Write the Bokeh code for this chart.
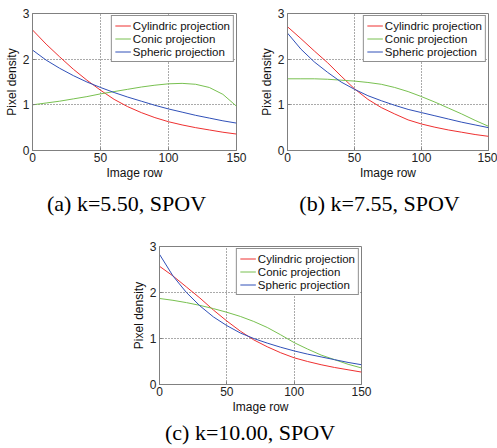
from bokeh.plotting import figure
from bokeh.layouts import column, row
from bokeh.models import Spacer, Range1d, FixedTicker
from bokeh.core.properties import value
from bokeh.embed import file_html
from bokeh.resources import INLINE

# ---- data ----
rows = [0, 10, 20, 30, 40, 50, 60, 70, 80, 90, 100, 110, 120, 130, 140, 150]

cyl_a = [2.64, 2.33, 2.05, 1.78, 1.54, 1.32, 1.12, 0.96, 0.83, 0.72, 0.63, 0.56, 0.50, 0.45, 0.40, 0.36]
con_a = [1.00, 1.04, 1.08, 1.13, 1.18, 1.24, 1.29, 1.34, 1.39, 1.43, 1.46, 1.47, 1.45, 1.38, 1.23, 0.97]
sph_a = [2.20, 1.98, 1.80, 1.64, 1.50, 1.38, 1.27, 1.17, 1.08, 0.99, 0.91, 0.84, 0.77, 0.71, 0.65, 0.60]

cyl_b = [2.71, 2.45, 2.18, 1.92, 1.63, 1.35, 1.12, 0.94, 0.80, 0.67, 0.58, 0.51, 0.45, 0.40, 0.35, 0.31]
con_b = [1.57, 1.57, 1.57, 1.56, 1.54, 1.52, 1.49, 1.45, 1.38, 1.29, 1.18, 1.06, 0.93, 0.80, 0.66, 0.53]
sph_b = [2.57, 2.22, 1.94, 1.71, 1.50, 1.34, 1.20, 1.09, 0.99, 0.90, 0.83, 0.76, 0.69, 0.62, 0.56, 0.50]

cyl_c = [2.57, 2.36, 2.12, 1.88, 1.62, 1.38, 1.16, 0.97, 0.82, 0.69, 0.58, 0.50, 0.43, 0.37, 0.32, 0.27]
con_c = [1.87, 1.83, 1.78, 1.72, 1.65, 1.57, 1.48, 1.37, 1.24, 1.08, 0.91, 0.77, 0.64, 0.54, 0.44, 0.36]
sph_c = [2.83, 2.36, 2.00, 1.71, 1.47, 1.28, 1.12, 1.00, 0.90, 0.81, 0.73, 0.66, 0.60, 0.54, 0.48, 0.43]

series_names = ["Cylindric projection", "Conic projection", "Spheric projection"]
x_ticks = [0, 50, 100, 150]
y_ticks = [0, 1, 2, 3]
captions = ["(a) k=5.50, SPOV", "(b) k=7.55, SPOV", "(c) k=10.00, SPOV"]

colors = ["#ee3030", "#78c050", "#3050b8"]
SANS = "Liberation Sans"
SERIF = "Liberation Serif"
PAGE_W = 497


def make_plot(ys, width, height, mbl, mbr, mbt, mbb):
    p = figure(width=width, height=height,
               x_range=Range1d(0, 150), y_range=Range1d(0, 3),
               output_backend="svg", toolbar_location=None,
               min_border_left=mbl, min_border_right=mbr,
               min_border_top=mbt, min_border_bottom=mbb)
    p.border_fill_color = "white"
    p.background_fill_color = "white"
    p.outline_line_color = "#808080"
    p.outline_line_width = 1

    for ax in (p.xaxis[0], p.yaxis[0]):
        ax.axis_line_color = "#808080"
        ax.major_tick_line_color = "#808080"
        ax.major_tick_in = 3
        ax.major_tick_out = 0
        ax.minor_tick_line_color = None
        ax.major_label_text_font = SANS
        ax.major_label_text_font_size = "12px"
        ax.major_label_text_color = "#222222"
        ax.major_label_standoff = 2
        ax.axis_label_text_font = SANS
        ax.axis_label_text_font_size = "12px"
        ax.axis_label_text_font_style = "normal"
        ax.axis_label_text_color = "#111111"
        ax.axis_label_standoff = 1
    p.xaxis[0].ticker = FixedTicker(ticks=x_ticks)
    p.yaxis[0].ticker = FixedTicker(ticks=y_ticks)
    p.xaxis[0].axis_label = "Image row"
    p.yaxis[0].axis_label = "Pixel density"
    p.yaxis[0].major_label_standoff = 3

    p.xgrid[0].ticker = FixedTicker(ticks=[50, 100])
    p.ygrid[0].ticker = FixedTicker(ticks=[1, 2])
    for g in (p.xgrid[0], p.ygrid[0]):
        g.grid_line_color = "#555555"
        g.grid_line_dash = "1 2"
        g.grid_line_width = 1

    for name, y, c in zip(series_names, ys, colors):
        p.line(rows, y, line_color=c, line_width=1, legend_label=name)

    lg = p.legend[0]
    lg.location = "top_right"
    lg.margin = 2
    lg.padding = 3
    lg.spacing = 0
    lg.glyph_width = 16
    lg.glyph_height = 13
    lg.label_height = 13
    lg.label_standoff = 2
    lg.label_text_font = SANS
    lg.label_text_font_size = "11.5px"
    lg.label_text_color = "#111111"
    lg.border_line_color = "#222222"
    lg.border_line_width = 1
    lg.background_fill_color = "white"
    lg.background_fill_alpha = 1.0
    return p


def make_caption(texts, centers, height, cy):
    c = figure(width=PAGE_W, height=height,
               x_range=Range1d(0, PAGE_W), y_range=Range1d(0, height),
               x_axis_type=None, y_axis_type=None,
               output_backend="svg", toolbar_location=None, min_border=0)
    c.outline_line_color = None
    c.grid.visible = False
    c.border_fill_color = "white"
    c.text(x=centers, y=[height - cy] * len(texts), text=texts,
           text_align="center", text_baseline="middle",
           text_font=value(SERIF), text_font_size="22px", text_color="black")
    return c


pa = make_plot([cyl_a, con_a, sph_a], 255, 184, 32, 19, 13, 34)
pb = make_plot([cyl_b, con_b, sph_b], 242, 184, 32, 9, 13, 34)
pc = make_plot([cyl_c, con_c, sph_c], 253, 188, 32, 19, 16, 34)

cap1 = make_caption(captions[:2], [126, 379], 46, 19)
cap2 = make_caption(captions[2:], [249.5], 30, 14)

layout = column(row(pa, pb), cap1, row(Spacer(width=127, height=188), pc), cap2)

open("out.html", "w").write(file_html(layout, INLINE))
